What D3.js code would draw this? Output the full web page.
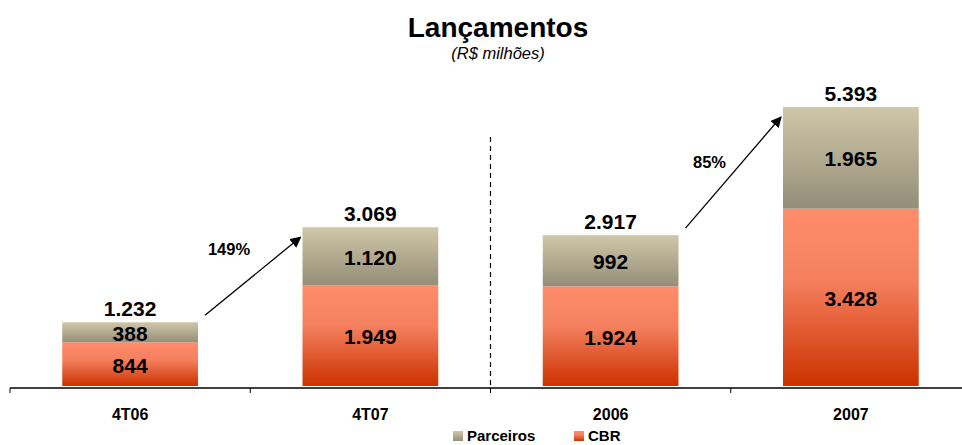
<!DOCTYPE html>
<html>
<head>
<meta charset="utf-8">
<script src="https://cdn.jsdelivr.net/npm/d3@7"></script>
<style>
  body { margin: 0; background: #fff; }
  text { font-family: "Liberation Sans", Arial, sans-serif; fill: #000; }
</style>
</head>
<body>
<div id="chart"></div>
<script>
// data
const categories = ['4T06', '4T07', '2006', '2007'];
const cbr = [844, 1949, 1924, 3428];
const parceiros = [388, 1120, 992, 1965];
const totals = [1232, 3069, 2917, 5393];
const growthLabels = [
  { from: '4T06', to: '4T07', label: '149%' },
  { from: '2006', to: '2007', label: '85%' },
];
const seriesNames = ['Parceiros', 'CBR'];

const WIDTH = 962;
const HEIGHT = 445;
const baseY = 386;

const ptBR = d3.formatLocale({ decimal: ',', thousands: '.', grouping: [3], currency: ['R$', ''] });
const fmt = ptBR.format(',');

const rows = categories.map((c, i) => ({ cat: c, cbr: cbr[i], parceiros: parceiros[i], total: totals[i] }));

const svg = d3.select('#chart').append('svg')
  .attr('width', WIDTH)
  .attr('height', HEIGHT);

// gradients
const defs = svg.append('defs');
const gCbr = defs.append('linearGradient').attr('id', 'gradCbr').attr('x1', 0).attr('y1', 0).attr('x2', 0).attr('y2', 1);
gCbr.append('stop').attr('offset', '0%').attr('stop-color', '#ff8c6a');
gCbr.append('stop').attr('offset', '40%').attr('stop-color', '#f4805f');
gCbr.append('stop').attr('offset', '100%').attr('stop-color', '#cc3200');
const gPar = defs.append('linearGradient').attr('id', 'gradPar').attr('x1', 0).attr('y1', 0).attr('x2', 0).attr('y2', 1);
gPar.append('stop').attr('offset', '0%').attr('stop-color', '#cfc7a8');
gPar.append('stop').attr('offset', '100%').attr('stop-color', '#958e78');

const markerDef = defs.append('marker')
  .attr('id', 'arrowHead')
  .attr('viewBox', '0 0 10 10')
  .attr('refX', 9).attr('refY', 5)
  .attr('markerWidth', 11).attr('markerHeight', 11)
  .attr('markerUnits', 'userSpaceOnUse')
  .attr('orient', 'auto');
markerDef.append('path').attr('d', 'M0,0 L10,5 L0,10 Z').attr('fill', '#000');

// scales
const scaleX = d3.scaleBand()
  .domain(categories)
  .range([10, 971])
  .paddingInner(0.435)
  .paddingOuter(0.2175);
const scaleY = d3.scaleLinear()
  .domain([0, d3.max(totals)])
  .range([baseY, 107]);

// title
svg.append('text')
  .attr('x', 498).attr('y', 37)
  .attr('text-anchor', 'middle')
  .style('font-size', '28px').style('font-weight', 'bold')
  .text('Lançamentos');
svg.append('text')
  .attr('x', 498).attr('y', 59)
  .attr('text-anchor', 'middle')
  .style('font-size', '16.5px').style('font-style', 'italic')
  .text('(R$ milhões)');

// bars
const bw = scaleX.bandwidth();
svg.selectAll('.barCbr')
  .data(rows)
  .join('rect')
  .attr('class', 'barCbr')
  .attr('x', (d) => scaleX(d.cat))
  .attr('y', (d) => scaleY(d.cbr))
  .attr('width', bw)
  .attr('height', (d) => baseY - scaleY(d.cbr))
  .attr('fill', 'url(#gradCbr)');

svg.selectAll('.barPar')
  .data(rows)
  .join('rect')
  .attr('class', 'barPar')
  .attr('x', (d) => scaleX(d.cat))
  .attr('y', (d) => scaleY(d.cbr + d.parceiros))
  .attr('width', bw)
  .attr('height', (d) => scaleY(d.cbr) - scaleY(d.cbr + d.parceiros))
  .attr('fill', 'url(#gradPar)');

// labels inside bars
const valStyle = (sel) => sel
  .attr('text-anchor', 'middle')
  .attr('dominant-baseline', 'central')
  .style('font-size', '21px')
  .style('font-weight', 'bold');

svg.selectAll('.lblCbr')
  .data(rows)
  .join('text')
  .attr('class', 'lblCbr')
  .attr('x', (d) => scaleX(d.cat) + bw / 2)
  .attr('y', (d) => (scaleY(d.cbr) + baseY) / 2 + 1)
  .call(valStyle)
  .text((d) => fmt(d.cbr));

svg.selectAll('.lblPar')
  .data(rows)
  .join('text')
  .attr('class', 'lblPar')
  .attr('x', (d) => scaleX(d.cat) + bw / 2)
  .attr('y', (d) => (scaleY(d.cbr + d.parceiros) + scaleY(d.cbr)) / 2 + 1)
  .call(valStyle)
  .text((d) => fmt(d.parceiros));

svg.selectAll('.lblTot')
  .data(rows)
  .join('text')
  .attr('class', 'lblTot')
  .attr('x', (d) => scaleX(d.cat) + bw / 2)
  .attr('y', (d) => scaleY(d.total) - 6)
  .attr('text-anchor', 'middle')
  .style('font-size', '21px')
  .style('font-weight', 'bold')
  .text((d) => fmt(d.total));

// axis
const axisY = baseY + 2;
svg.append('line')
  .attr('x1', 10).attr('x2', WIDTH)
  .attr('y1', axisY).attr('y2', axisY)
  .attr('stroke', '#000').attr('stroke-width', 1.3);

const boundaries = categories.map((c) => scaleX(c) - scaleX.step() * scaleX.paddingOuter());
svg.selectAll('.tick')
  .data(boundaries)
  .join('line')
  .attr('class', 'tick')
  .attr('x1', (d) => d).attr('x2', (d) => d)
  .attr('y1', axisY).attr('y2', axisY + 5)
  .attr('stroke', '#000').attr('stroke-width', 1);

svg.selectAll('.catLbl')
  .data(categories)
  .join('text')
  .attr('class', 'catLbl')
  .attr('x', (d) => scaleX(d) + bw / 2)
  .attr('y', 420)
  .attr('text-anchor', 'middle')
  .style('font-size', '16px')
  .style('font-weight', 'bold')
  .text((d) => d);

// dashed separator between quarters and years
const sepX = boundaries[2];
svg.append('line')
  .attr('x1', sepX).attr('x2', sepX)
  .attr('y1', 137).attr('y2', axisY)
  .attr('stroke', '#000').attr('stroke-width', 1.2)
  .attr('stroke-dasharray', '5,4');

// growth arrows
const rowOf = (c) => rows[categories.indexOf(c)];
growthLabels.forEach((g) => {
  const a = rowOf(g.from);
  const b = rowOf(g.to);
  const x1 = scaleX(a.cat) + bw + 7;
  const y1 = scaleY(a.total) - 7;
  const x2 = scaleX(b.cat) - 2;
  const y2 = scaleY(b.total) + 10;
  svg.append('line')
    .attr('x1', x1).attr('y1', y1)
    .attr('x2', x2).attr('y2', y2)
    .attr('stroke', '#000').attr('stroke-width', 1.3)
    .attr('marker-end', 'url(#arrowHead)');
  svg.append('text')
    .attr('x', x1 + 24).attr('y', y1 - 66)
    .attr('text-anchor', 'middle')
    .attr('dominant-baseline', 'central')
    .style('font-size', '16.5px')
    .style('font-weight', 'bold')
    .text(g.label);
});

// legend
const legendX = [453, 574];
const legendFill = ['url(#gradPar)', 'url(#gradCbr)'];
const legend = svg.selectAll('.legend')
  .data(seriesNames)
  .join('g')
  .attr('class', 'legend')
  .attr('transform', (d, i) => `translate(${legendX[i]},431)`);
legend.append('rect')
  .attr('width', 10).attr('height', 10)
  .attr('fill', (d, i) => legendFill[i]);
legend.append('text')
  .attr('x', 14).attr('y', 10)
  .style('font-size', '15px')
  .style('font-weight', 'bold')
  .text((d) => d);
</script>
</body>
</html>
